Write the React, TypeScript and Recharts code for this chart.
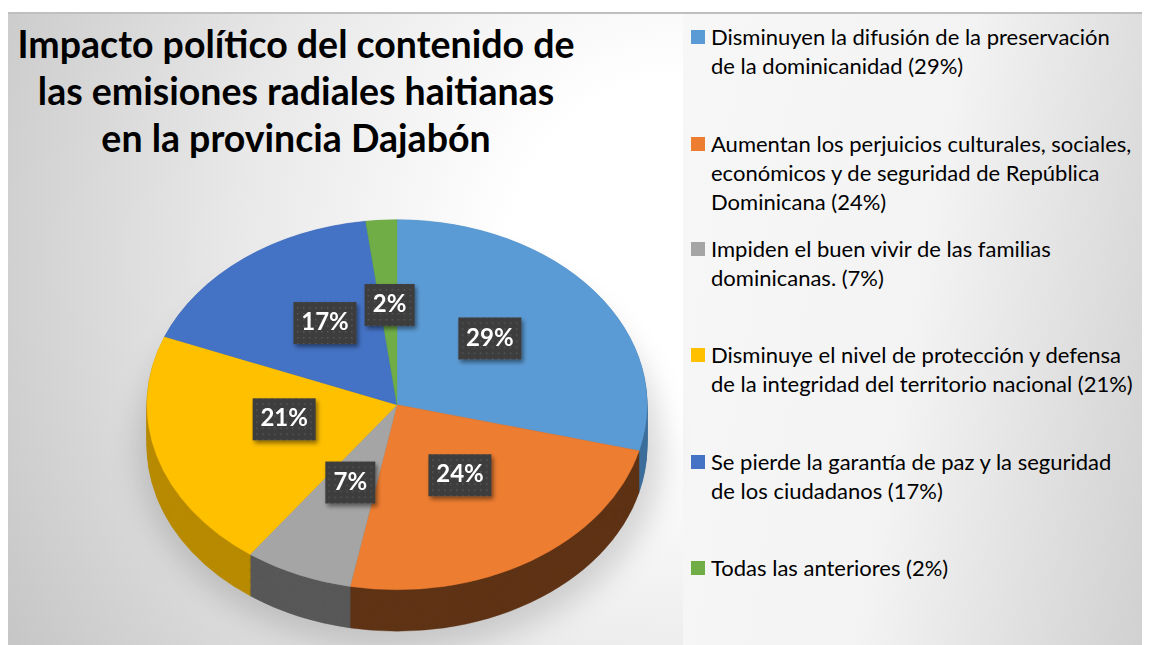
import React from 'react';
import { PieChart, Pie, Cell } from 'recharts';

const categories = [
  'Disminuyen la difusión de la preservación de la dominicanidad',
  'Aumentan los perjuicios culturales, sociales, económicos y de seguridad de República Dominicana',
  'Impiden el buen vivir de las familias dominicanas.',
  'Disminuye el nivel de protección y defensa de la integridad del territorio nacional',
  'Se pierde la garantía de paz y la seguridad de los ciudadanos',
  'Todas las anteriores',
];
const values = [29, 24, 7, 21, 17, 2];
const legendLines = [
  ['Disminuyen la difusión de la preservación', 'de la dominicanidad (29%)'],
  ['Aumentan los perjuicios culturales, sociales,', 'económicos y de seguridad de República', 'Dominicana (24%)'],
  ['Impiden el buen vivir de las familias', 'dominicanas. (7%)'],
  ['Disminuye el nivel de protección y defensa', 'de la integridad del territorio nacional (21%)'],
  ['Se pierde la garantía de paz y la seguridad', 'de los ciudadanos (17%)'],
  ['Todas las anteriores (2%)'],
];
const legendTops = [38, 145, 250, 356, 463, 569];
const titleLines = ['Impacto político del contenido de', 'las emisiones radiales haitianas', 'en la provincia Dajabón'];

const topColors = ['#5b9bd5', '#ed7d31', '#a5a5a5', '#ffc000', '#4472c4', '#70ad47'];
const sideColors = ['#3e6f9c', '#5f3316', '#585858', '#b88a00', '#2f5597', '#4e7a30'];

const FONT = 'Lato, "Open Sans", sans-serif';
const S = 0.74;
const CX = 389;
const CY = 528;
const R = 250;
const DEPTH = 56;
const STEP = 1.5;

const data = categories.map((name, i) => ({ name, value: values[i] }));
const layers: number[] = [];
for (let k = DEPTH; k > 0; k -= STEP) layers.push(k);

const RAD = Math.PI / 180;

const renderLabel = (props: any) => {
  const { cx, cy, midAngle, outerRadius, value } = props;
  const r = outerRadius * 0.47;
  const v = Math.sin(-midAngle * RAD);
  const x = cx + r * Math.cos(-midAngle * RAD);
  const y = cy + r * v + (-13 + 12 * Math.max(0, v)) / S;
  const text = `${value}%`;
  const w = 24 + 13 * text.length;
  return (
    <g transform={`translate(${x},${y}) scale(1,${1 / S})`}>
      <rect x={-w / 2} y={-21} width={w} height={42} fill="url(#dots)" filter="url(#lblShadow)" />
      <text
        x={0}
        y={1}
        textAnchor="middle"
        dominantBaseline="middle"
        fill="#ffffff"
        fontFamily={FONT}
        fontWeight={700}
        fontSize={24}
      >
        {text}
      </text>
    </g>
  );
};

export default function App() {
  return (
    <div
      style={{
        position: 'relative',
        width: 1140,
        height: 631,
        marginTop: 4,
        borderTop: '2px solid #bfbfbf',
        overflow: 'hidden',
        fontFamily: FONT,
        background: '#ffffff',
      }}
    >
      <div
        style={{
          position: 'absolute',
          left: 0,
          top: 0,
          width: 675,
          height: 631,
          background:
            'radial-gradient(ellipse 115% 125% at 100% 38%, #ffffff 0%, #ffffff 22%, #e8e8e8 58%, #c6c6c6 100%)',
        }}
      />
      <div
        style={{
          position: 'absolute',
          left: 675,
          top: 0,
          width: 465,
          height: 631,
          background: 'linear-gradient(100deg, #f7f7f7 0%, #f3f3f3 50%, #d0d0d0 100%)',
        }}
      />
      <div
        style={{
          position: 'absolute',
          left: 130,
          top: 232,
          width: 525,
          height: 404,
          borderRadius: '50%',
          background: 'rgba(0,0,0,0.14)',
          filter: 'blur(14px)',
        }}
      />
      {titleLines.map((t, i) => (
        <div
          key={i}
          style={{
            position: 'absolute',
            left: 0,
            width: 576,
            top: 8 + i * 47,
            textAlign: 'center',
            fontWeight: 700,
            fontSize: 37.5,
            lineHeight: '44px',
            color: '#000',
            whiteSpace: 'nowrap',
          }}
        >
          {t}
        </div>
      ))}
      <div
        style={{
          position: 'absolute',
          left: 0,
          top: 0,
          width: 680,
          height: 862,
          transform: `scaleY(${S})`,
          transformOrigin: '0 0',
        }}
      >
        <PieChart width={680} height={862} margin={{ top: 0, right: 0, bottom: 0, left: 0 }}>
          <defs>
            <pattern id="dots" patternUnits="userSpaceOnUse" width={6} height={6}>
              <rect width={6} height={6} fill="#3d3d3d" />
              <rect x={2} y={2} width={1.5} height={1.5} fill="#575757" />
            </pattern>
            <filter id="lblShadow" x="-30%" y="-30%" width="160%" height="170%">
              <feDropShadow dx={2} dy={3} stdDeviation={2} floodColor="#000" floodOpacity={0.45} />
            </filter>
          </defs>
          {layers.map((k) => (
            <Pie
              key={`side-${k}`}
              data={data}
              dataKey="value"
              cx={CX}
              cy={CY + k}
              outerRadius={R}
              startAngle={90}
              endAngle={-270}
              isAnimationActive={false}
              label={false}
              labelLine={false}
            >
              {data.map((d, i) => (
                <Cell key={i} fill={sideColors[i]} stroke={sideColors[i]} strokeWidth={0.5} />
              ))}
            </Pie>
          ))}
          <Pie
            data={data}
            dataKey="value"
            cx={CX}
            cy={CY}
            outerRadius={R}
            startAngle={90}
            endAngle={-270}
            isAnimationActive={false}
            labelLine={false}
            label={renderLabel}
          >
            {data.map((d, i) => (
              <Cell key={i} fill={topColors[i]} stroke={topColors[i]} strokeWidth={0.5} />
            ))}
          </Pie>
        </PieChart>
      </div>
      {legendLines.map((lines, i) => (
        <div key={i} style={{ position: 'absolute', left: 683, top: legendTops[i] - 12 - 18 }}>
          <div
            style={{
              position: 'absolute',
              left: 0,
              top: 8,
              width: 14,
              height: 14,
              background: topColors[i],
            }}
          />
          {lines.map((l, j) => (
            <div
              key={j}
              style={{
                position: 'absolute',
                left: 20,
                top: j * 29,
                whiteSpace: 'nowrap',
                fontSize: 22,
                lineHeight: '30px',
                color: '#000',
              }}
            >
              {l}
            </div>
          ))}
        </div>
      ))}
    </div>
  );
}
